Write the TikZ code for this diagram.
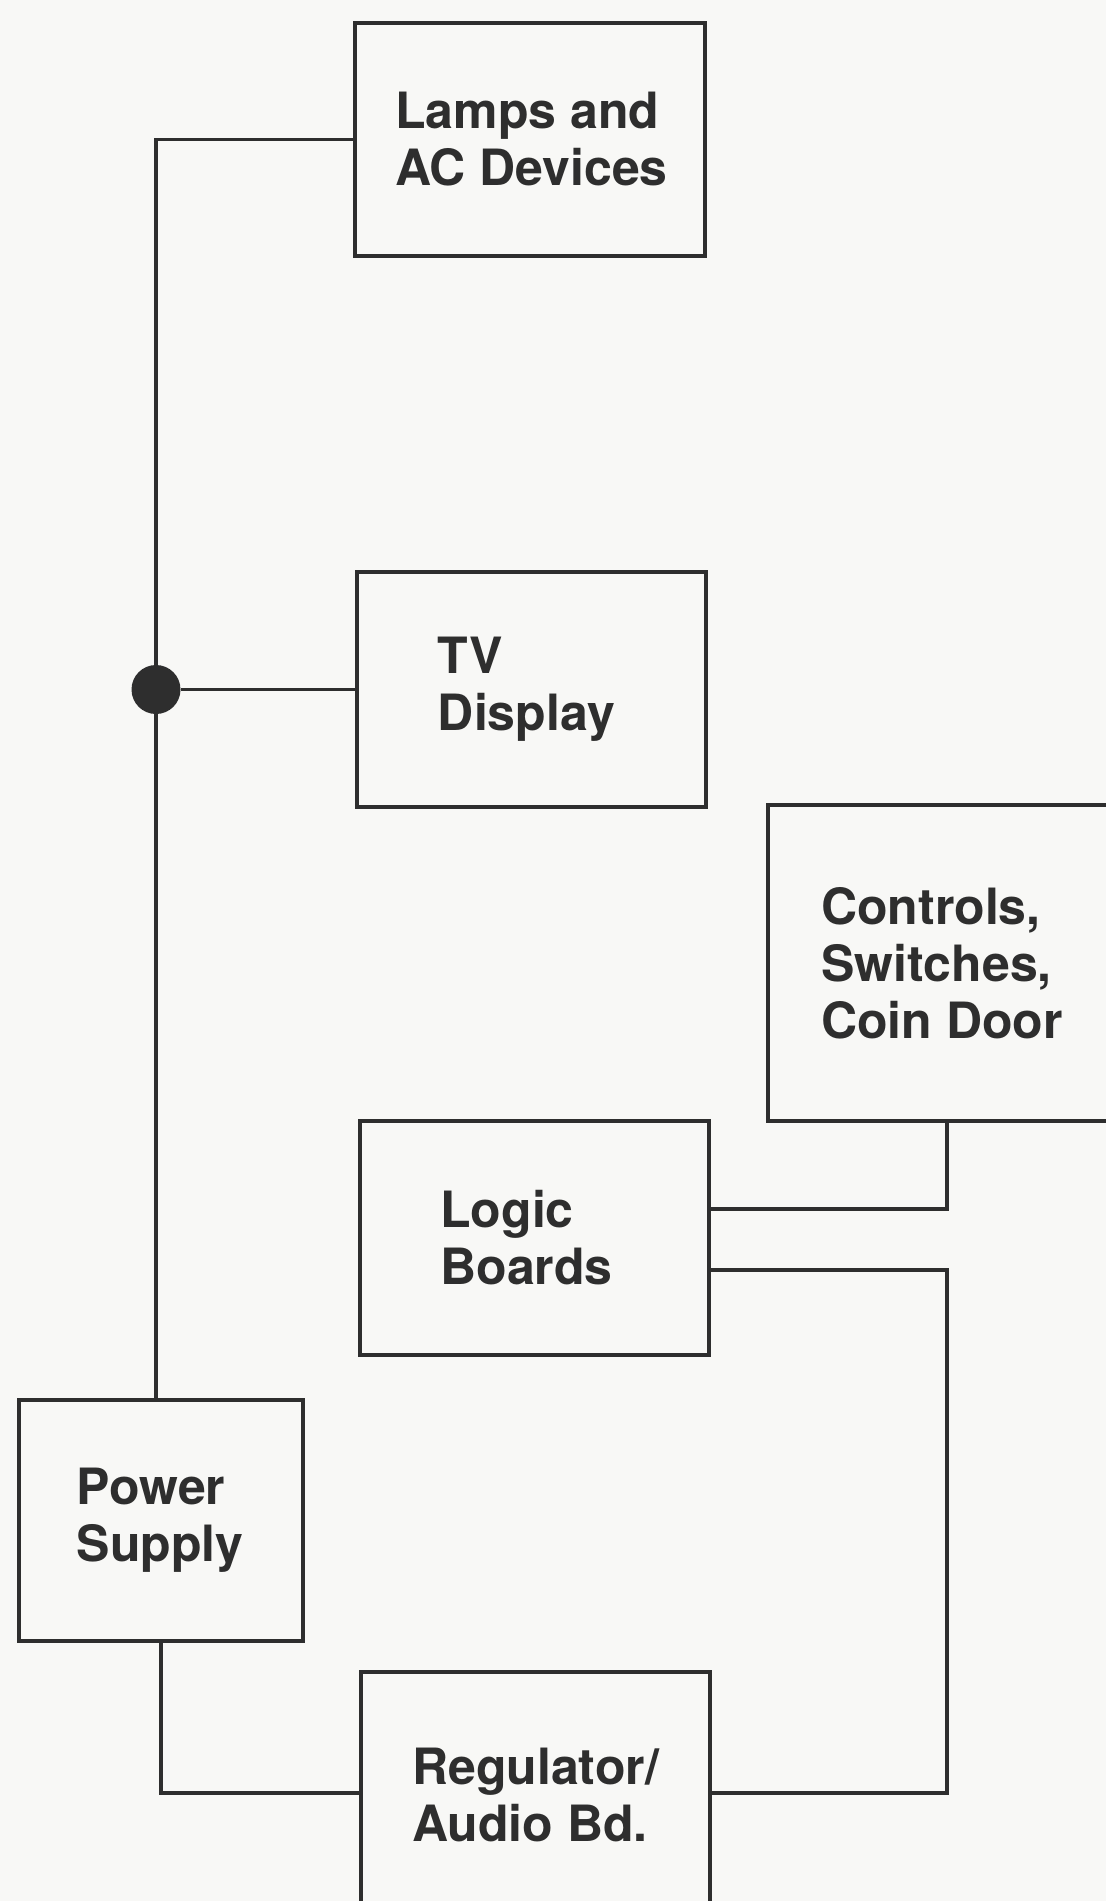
\documentclass[tikz,border=0pt]{standalone}
\usepackage{fontspec}
\setmainfont{TeX Gyre Heros}
\definecolor{paper}{HTML}{F8F8F6}
\definecolor{ink}{HTML}{2E2E2E}
\begin{document}
\begin{tikzpicture}[x=0.5pt,y=-0.5pt,
  blk/.style={draw=ink, line width=1.6pt, rectangle, inner sep=0pt},
  lbl/.style={inner sep=0pt, align=left, text=ink,
    font=\fontsize{25}{28.5}\selectfont\bfseries},
  wire/.style={draw=ink, line width=1.6pt},
  junction/.style={circle, fill=ink, draw=none, inner sep=0pt, minimum size=24.5pt}]
\fill[paper] (0,0) rectangle (1106,1901);
\useasboundingbox (0,0) rectangle (1106,1901);
\begin{scope}
\clip (0,0) rectangle (1106,1901);
\node[blk, minimum width=175pt, minimum height=116.5pt,
  label={[lbl, xshift=0.7pt]center:Lamps and\\AC Devices}] (lamps) at (530,139.5) {};
\node[blk, minimum width=174.5pt, minimum height=117.5pt,
  label={[lbl, xshift=-2.5pt]center:TV\\Display}] (tv) at (531.5,689.5) {};
\node[blk, minimum width=173pt, minimum height=158pt,
  label={[lbl, xshift=0.5pt]center:Controls,\\Switches,\\Coin Door}] (ctrl) at (941,963) {};
\node[blk, minimum width=174.5pt, minimum height=117pt,
  label={[lbl, xshift=-4pt]center:Logic\\Boards}] (logic) at (534.5,1238) {};
\node[blk, minimum width=142pt, minimum height=120.5pt,
  label={[lbl, xshift=-0.5pt]center:Power\\Supply}] (ps) at (161,1520.5) {};
\node[blk, minimum width=174.5pt, minimum height=123pt,
  label={[lbl]center:Regulator/\\Audio Bd.}] (reg) at (535.5,1795) {};
\coordinate (btop) at (156,139.5);
\node[junction] (dot) at (156,689.5) {};
\coordinate (j1) at (947,1209);
\coordinate (j2) at (947,1270);
\coordinate (j3) at (947,1793);
\coordinate (j4) at (161,1793);
\draw[wire] (lamps.west) -- (btop) -- (btop |- ps.north);
\draw[wire] (dot) -- (tv.west);
\draw[wire] (logic.east |- j1) -- (j1) -- (j1 |- ctrl.south);
\draw[wire] (logic.east |- j2) -- (j2) -- (j3) -- (reg.east |- j3);
\draw[wire] (ps.south) -- (j4) -- (reg.west |- j4);
\end{scope}
\end{tikzpicture}
\end{document}
